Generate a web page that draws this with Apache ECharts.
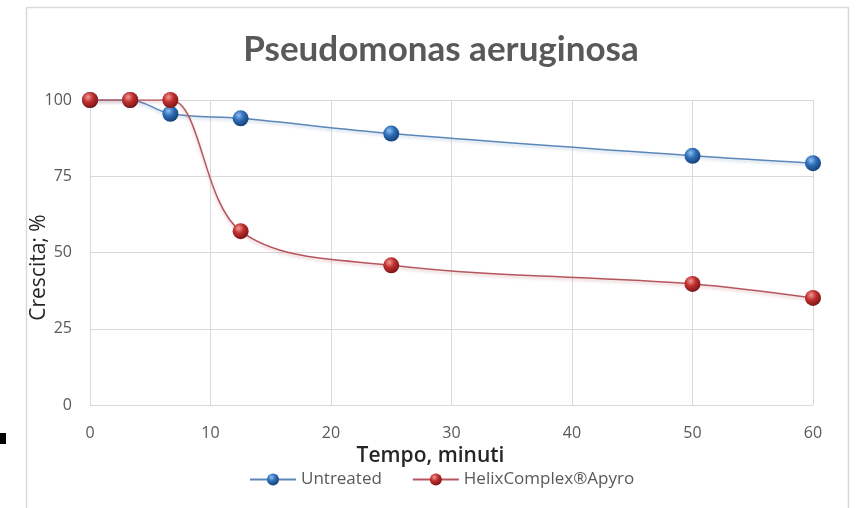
<!DOCTYPE html>
<html>
<head>
<meta charset="utf-8">
<script src="https://cdn.jsdelivr.net/npm/echarts@6/dist/echarts.min.js"></script>
<style>html,body{margin:0;padding:0;background:#fff}#c{width:856px;height:508px}</style>
</head>
<body>
<div id="c"></div>
<script>
var titleText = "Pseudomonas aeruginosa";
var xName = "Tempo, minuti";
var yName = "Crescita; %";
var seriesNames = ["Untreated", "HelixComplex®Apyro"];
var untreatedX = [0, 3.33, 6.67, 12.5, 25, 50, 60];
var untreatedY = [100, 100, 95.5, 94, 89, 81.7, 79.3];
var helixX = [0, 3.33, 6.67, 12.5, 25, 50, 60];
var helixY = [100, 100, 100, 57, 45.8, 39.7, 35.1];

function pairs(xs, ys){ return xs.map(function(x,i){ return [x, ys[i]]; }); }
function ball(light, mid, dark){
  return new echarts.graphic.RadialGradient(0.38, 0.32, 0.7, [
    {offset:0, color:light},{offset:0.45, color:mid},{offset:1, color:dark}]);
}
var chart = echarts.init(document.getElementById('c'));
chart.setOption({
  animation:false,
  backgroundColor:'#fff',
  title:{text:titleText, left:436, textAlign:'center', top:27,
    textStyle:{fontFamily:'Lato', fontWeight:'bold', fontSize:35, color:'#595959'}},
  graphic:[
    {type:'rect', shape:{x:26.5, y:7.5, width:822, height:520}, style:{fill:'none', stroke:'#d9d9d9', lineWidth:1.5}, z:-1},
    {type:'rect', shape:{x:0, y:433, width:6, height:11}, style:{fill:'#000'}}
  ],
  grid:{left:90, right:43, top:100, bottom:103},
  xAxis:{type:'value', min:0, max:60, interval:10,
    name:xName, nameLocation:'middle', nameGap:38,
    nameTextStyle:{fontFamily:'Open Sans', fontSize:21, fontWeight:600, color:'#262626', padding:[0,42,0,0]},
    axisLine:{show:false}, axisTick:{show:false},
    axisLabel:{fontFamily:'Open Sans', fontSize:16, color:'#595959', margin:20},
    splitLine:{show:true, lineStyle:{color:'#d9d9d9', width:1}}},
  yAxis:{type:'value', min:0, max:100, interval:25,
    name:yName, nameLocation:'middle', nameGap:40, nameRotate:90, nameMoveOverlap:false,
    nameTextStyle:{fontFamily:'Open Sans', fontSize:21, color:'#262626', padding:[0,30,0,0]},
    axisLine:{show:false}, axisTick:{show:false},
    axisLabel:{fontFamily:'Open Sans', fontSize:16, color:'#595959', margin:18},
    splitLine:{show:true, lineStyle:{color:'#d9d9d9', width:1}}},
  legend:{top:466, left:244, itemWidth:46, itemHeight:15, itemGap:30,
    textStyle:{fontFamily:'Open Sans', fontSize:17, color:'#595959'},
    data:seriesNames},
  series:[
    {name:seriesNames[0], type:'line', smooth:0.35, data:pairs(untreatedX, untreatedY),
     symbol:'circle', symbolSize:16,
     lineStyle:{color:'#5b86b8', width:1.5, shadowColor:'rgba(91,134,184,0.35)', shadowBlur:3, shadowOffsetY:2},
     itemStyle:{color:ball('#8fc0f0','#2f6fb8','#163e75'), borderWidth:0}, z:2},
    {name:seriesNames[1], type:'line', smooth:0.35, data:pairs(helixX, helixY),
     symbol:'circle', symbolSize:16,
     lineStyle:{color:'#b5565e', width:1.5, shadowColor:'rgba(181,86,94,0.35)', shadowBlur:3, shadowOffsetY:2},
     itemStyle:{color:ball('#f29a9a','#c0302f','#7a1414'), borderWidth:0}, z:3}
  ]
});
</script>
</body>
</html>
